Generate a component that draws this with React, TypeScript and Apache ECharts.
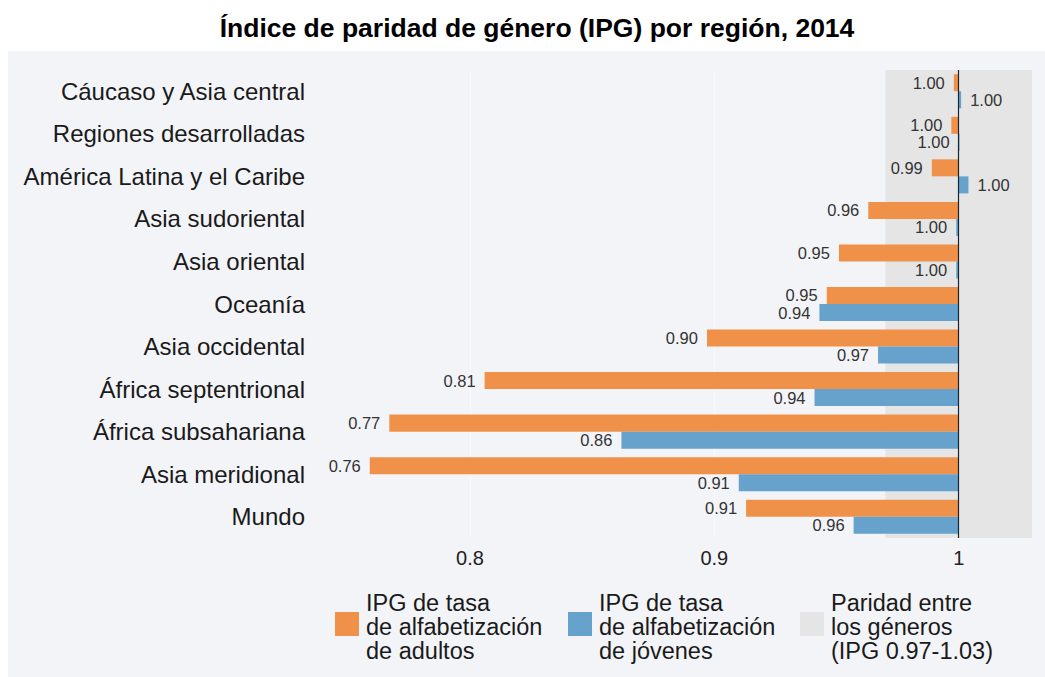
import React, { useEffect, useRef } from "react";
import * as echarts from "echarts";

const categories = [
  "Cáucaso y Asia central",
  "Regiones desarrolladas",
  "América Latina y el Caribe",
  "Asia sudoriental",
  "Asia oriental",
  "Oceanía",
  "Asia occidental",
  "África septentrional",
  "África subsahariana",
  "Asia meridional",
  "Mundo",
];
const adults = [0.998, 0.997, 0.989, 0.963, 0.951, 0.946, 0.897, 0.806, 0.767, 0.759, 0.913];
const youth = [1.001, 1.0, 1.004, 0.999, 0.999, 0.943, 0.967, 0.941, 0.862, 0.91, 0.957];
const xTicks = [0.8, 0.9, 1];
const parityRange = [0.97, 1.03];
const legendLabels = [
  "IPG de tasa\nde alfabetización\nde adultos",
  "IPG de tasa\nde alfabetización\nde jóvenes",
  "Paridad entre\nlos géneros\n(IPG 0.97-1.03)",
];
const title = "Índice de paridad de género (IPG) por región, 2014";

const ORANGE = "#f0914a";
const BLUE = "#66a2cb";
const BAND = "#e5e5e5";
const BG = "#f3f4f8";
const FONT = "'Liberation Sans', Arial, Helvetica, sans-serif";

function makeRender(upper: boolean, color: string) {
  return (params: any, api: any) => {
    const val = api.value(0);
    const cat = api.value(1);
    const p = api.coord([val, cat]);
    const base = api.coord([1, cat]);
    const bandH = api.size([0, 1])[1];
    const h = bandH * 0.4;
    const x0 = Math.min(p[0], base[0]);
    const x1 = Math.max(p[0], base[0]);
    const y = upper ? p[1] - h : p[1];
    const right = val > 1.0005;
    return {
      type: "group",
      children: [
        {
          type: "rect",
          shape: { x: x0, y, width: Math.max(x1 - x0, 0.8), height: h },
          style: { fill: color },
        },
        {
          type: "text",
          style: {
            text: val.toFixed(2),
            x: right ? x1 + 9 : x0 - 9,
            y: y + h / 2,
            align: right ? "left" : "right",
            verticalAlign: "middle",
            fontSize: 16.5,
            fontFamily: FONT,
            fill: "#333",
          },
        },
      ],
    };
  };
}

export default function App() {
  const ref = useRef<HTMLDivElement>(null);
  useEffect(() => {
    const chart = echarts.init(ref.current!, null, { renderer: "svg" });
    const legendX = [335, 568, 800];
    const legendColors = [ORANGE, BLUE, BAND];
    const graphic: any[] = [
      {
        type: "rect",
        z: -10,
        silent: true,
        shape: { x: 8, y: 51, width: 1040, height: 630 },
        style: { fill: BG },
      },
      {
        type: "text",
        x: 537,
        y: 28,
        style: {
          text: title,
          align: "center",
          verticalAlign: "middle",
          fontSize: 26.5,
          fontWeight: "bold",
          fontFamily: FONT,
          fill: "#000",
        },
      },
    ];
    legendLabels.forEach((lab, i) => {
      graphic.push({
        type: "rect",
        shape: { x: legendX[i], y: 612, width: 24, height: 24 },
        style: { fill: legendColors[i] },
      });
      graphic.push({
        type: "text",
        x: legendX[i] + 31,
        y: 627,
        style: {
          text: lab,
          align: "left",
          verticalAlign: "middle",
          fontSize: 23.5,
          lineHeight: 24,
          fontFamily: FONT,
          fill: "#1a1a1a",
        },
      });
    });

    chart.setOption({
      animation: false,
      grid: { left: 316, right: 13, top: 70, bottom: 139, containLabel: false },
      xAxis: {
        type: "value",
        min: 0.737,
        max: 1.03,
        axisLine: { show: false },
        axisTick: { show: false },
        splitLine: { show: false },
        axisLabel: {
          customValues: xTicks,
          formatter: (v: number) => String(v),
          fontSize: 20,
          color: "#222",
          fontFamily: FONT,
          margin: 10,
        },
      },
      yAxis: {
        type: "category",
        data: categories,
        inverse: true,
        axisLine: { show: false },
        axisTick: { show: false },
        splitLine: { show: false },
        axisLabel: { fontSize: 24, color: "#1a1a1a", fontFamily: FONT, margin: 11 },
      },
      graphic,
      series: [
        {
          type: "line",
          data: [],
          z: 1,
          markArea: {
            silent: true,
            z: 1,
            itemStyle: { color: BAND },
            data: [[{ xAxis: parityRange[0] }, { xAxis: parityRange[1] }]],
          },
          markLine: {
            silent: true,
            z: 1,
            symbol: "none",
            label: { show: false },
            lineStyle: { color: "#f8f9fc", width: 1, type: "solid" },
            data: xTicks.filter((t) => t < 1).map((t) => ({ xAxis: t })),
          },
        },
        {
          type: "custom",
          name: "adultos",
          z: 3,
          encode: { x: 0, y: 1 },
          data: adults.map((v, i) => [v, i]),
          renderItem: makeRender(true, ORANGE),
        },
        {
          type: "custom",
          name: "jóvenes",
          z: 3,
          encode: { x: 0, y: 1 },
          data: youth.map((v, i) => [v, i]),
          renderItem: makeRender(false, BLUE),
        },
        {
          type: "line",
          data: [],
          z: 5,
          markLine: {
            silent: true,
            z: 6,
            symbol: "none",
            label: { show: false },
            lineStyle: { color: "#1c2333", width: 1.2, type: "solid" },
            data: [{ xAxis: 1 }],
          },
        },
      ],
    });
    return () => chart.dispose();
  }, []);
  return (
    <div
      ref={ref}
      style={{ position: "fixed", left: 0, top: 0, width: 1045, height: 677, background: "#fff" }}
    />
  );
}
